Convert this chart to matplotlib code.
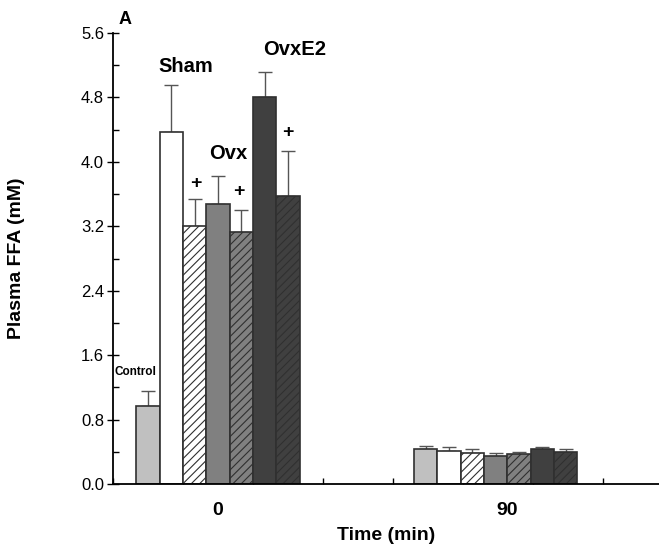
import matplotlib
matplotlib.use('Agg')
import matplotlib.pyplot as plt
from matplotlib.ticker import MultipleLocator

plt.rcParams['font.family'] = ['Liberation Sans', 'DejaVu Sans']
plt.rcParams['hatch.linewidth'] = 0.8

# dados
grupos = ['0', '90']
barras = ['Control', 'Sham', 'Sham+', 'Ovx', 'Ovx+', 'OvxE2', 'OvxE2+']
ffa_0 = [0.97, 4.37, 3.20, 3.48, 3.13, 4.81, 3.57]
err_0 = [0.19, 0.59, 0.34, 0.35, 0.27, 0.30, 0.57]
ffa_90 = [0.43, 0.41, 0.39, 0.35, 0.37, 0.43, 0.40]
err_90 = [0.04, 0.045, 0.04, 0.04, 0.03, 0.03, 0.04]

cores = ['#c0c0c0', 'white', 'white', '#808080', '#808080', '#404040', '#404040']
hachuras = [None, None, '////', None, '////', None, '////']

inicio = [1.0, 12.9]  # borda esquerda de cada grupo
pos_rotulo = [4.5, 16.9]

fig = plt.figure(figsize=(6.59, 5.5), dpi=100)
ax = fig.add_axes([0.1715, 0.12, 0.8285, 0.82])

for g, (vals, errs) in enumerate([(ffa_0, err_0), (ffa_90, err_90)]):
    xs = [inicio[g] + i + 0.5 for i in range(len(vals))]
    for i in range(len(vals)):
        ax.bar(xs[i], vals[i], width=1.0, color=cores[i], edgecolor='#303030',
               linewidth=1.2, hatch=hachuras[i], zorder=2)
    ax.errorbar(xs, vals, yerr=[[0] * len(errs), errs], fmt='none',
                ecolor='#555555', elinewidth=1.0, capsize=5, capthick=1.0,
                zorder=1)

ax.set_xlim(0, 23.4)
ax.set_ylim(0, 5.6)
ax.yaxis.set_major_locator(MultipleLocator(0.8))
ax.yaxis.set_minor_locator(MultipleLocator(0.4))
ax.set_yticklabels([f'{v:.1f}' for v in ax.get_yticks()])
ax.tick_params(axis='y', which='major', direction='inout', length=9, width=1,
               labelsize=12, pad=2)
ax.tick_params(axis='y', which='minor', direction='in', length=4, width=1)

ax.set_xticks(pos_rotulo)
ax.set_xticklabels(grupos, fontsize=14, fontweight='bold')
ax.tick_params(axis='x', which='major', length=0, pad=13)
ax.xaxis.set_minor_locator(MultipleLocator(3))
ax.tick_params(axis='x', which='minor', direction='in', length=4, width=1)

for s in ['top', 'right']:
    ax.spines[s].set_visible(False)
ax.spines['left'].set_linewidth(1.3)
ax.spines['bottom'].set_linewidth(1.3)

ax.set_ylabel('Plasma FFA (mM)', fontsize=14, fontweight='bold')
ax.yaxis.set_label_coords(-0.161, 0.5)
ax.set_xlabel('Time (min)', fontsize=14, fontweight='bold', labelpad=6)

ax.text(3.1, 5.18, 'Sham', fontsize=14.5, fontweight='bold', ha='center', va='center')
ax.text(4.95, 4.10, 'Ovx', fontsize=14.5, fontweight='bold', ha='center', va='center')
ax.text(7.8, 5.39, 'OvxE2', fontsize=14.5, fontweight='bold', ha='center', va='center')
ax.text(0.98, 1.39, 'Control', fontsize=8.5, fontweight='bold', ha='center', va='center')
for x, y in [(3.55, 3.73), (5.4, 3.63), (7.5, 4.37)]:
    ax.text(x, y, '+', fontsize=14, fontweight='bold', ha='center', va='center')
ax.text(0.5, 5.77, 'A', fontsize=13, fontweight='bold', ha='center', va='center')

fig.savefig('out.png', dpi=100)
